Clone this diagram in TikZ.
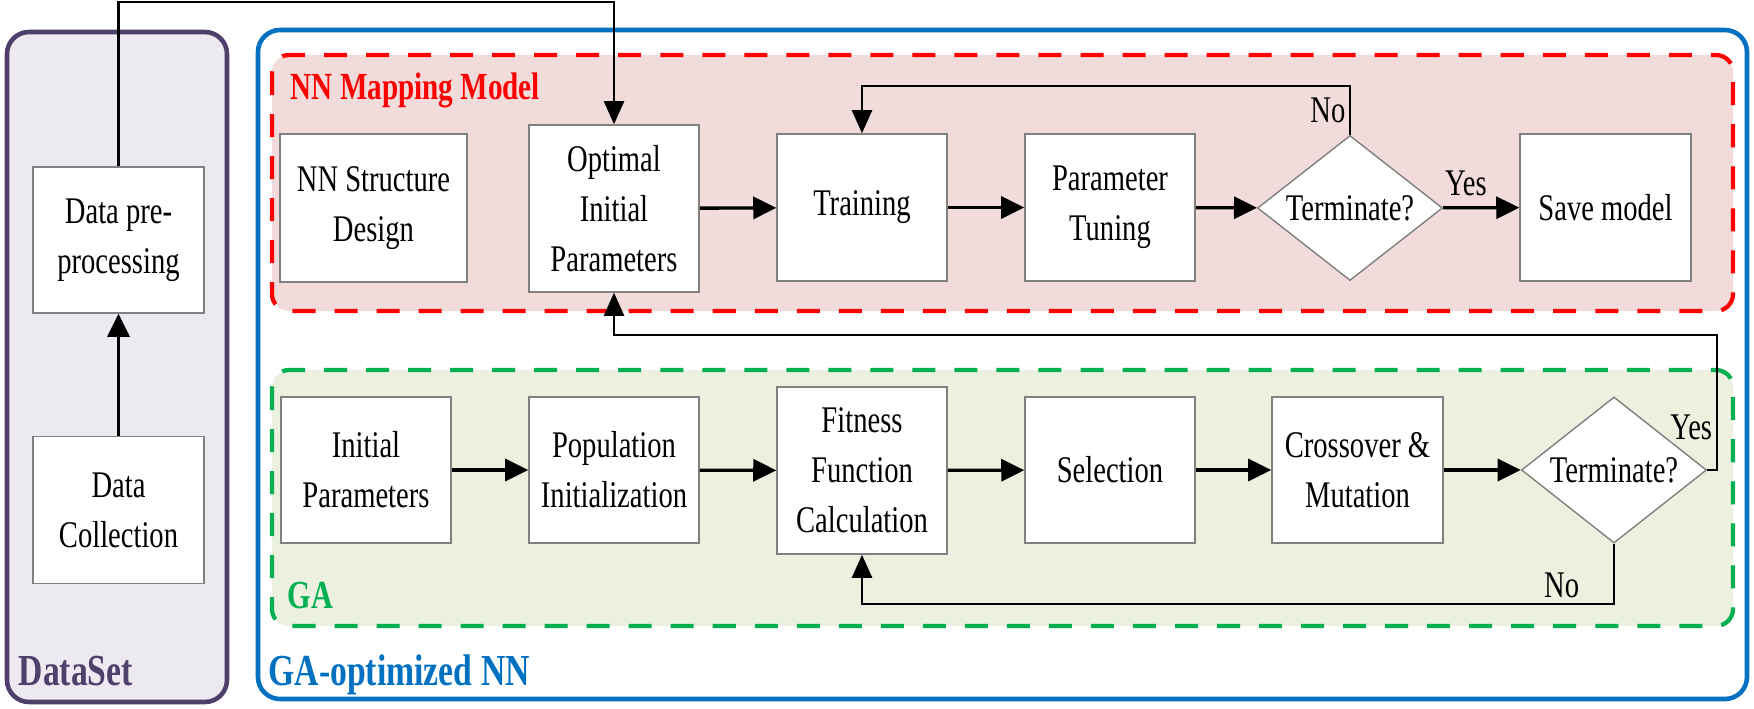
\documentclass[tikz,border=0pt]{standalone}
\usepackage{fontspec}
\setmainfont{Liberation Serif}[FakeStretch=0.76]
\usepackage{tikz}
\usetikzlibrary{shapes.geometric,arrows.meta,calc,positioning}

\definecolor{dsline}{HTML}{4F3F6B}
\definecolor{dsfill}{HTML}{ECE9F0}
\definecolor{nnblue}{HTML}{0070C0}
\definecolor{mapred}{HTML}{FF0000}
\definecolor{mapfill}{HTML}{F2DCDB}
\definecolor{gagreen}{HTML}{00B050}
\definecolor{gafill}{HTML}{EBF1DE}

\begin{document}
\begin{tikzpicture}[x=0.01cm,y=-0.01cm]%%GA-NN

        \tikzstyle{block}  = [draw=gray, fill=white, line width=0.4pt, align=center, inner sep=1pt,
                              minimum width=1.7cm, minimum height=1.47cm, font=\fontsize{10.7pt}{14.2pt}\selectfont]
        \tikzstyle{decide} = [diamond, draw=gray, fill=white, line width=0.4pt, inner sep=0pt, aspect=1.27,
                              minimum width=1.85cm, minimum height=1.45cm, font=\fontsize{10.7pt}{14.2pt}\selectfont]
        \tikzstyle{flow}   = [-{Triangle[length=2.3mm,width=2.2mm]}, line width=0.95pt]
        \tikzstyle{loop}   = [-{Triangle[length=2.3mm,width=2.0mm]}, line width=0.65pt]
        \tikzstyle{tag}    = [font=\fontsize{10.7pt}{14.2pt}\selectfont, inner sep=0pt]
        \tikzstyle{groupbox} = [rounded corners=0.17cm, dash pattern=on 0.23cm off 0.19cm, line width=1.2pt]

        \useasboundingbox (0,0) rectangle (1754,709);

        % outer frames
        \draw[dsline, fill=dsfill, line width=1.3pt, rounded corners=0.22cm] (7,32) rectangle (227,702);
        \draw[nnblue, line width=1.3pt, rounded corners=0.22cm] (258,30) rectangle (1747,699);
        \draw[groupbox, mapred, fill=mapfill] (272,55) rectangle (1733,311);
        \draw[groupbox, gagreen, fill=gafill] (272,370) rectangle (1733,626);

        \node[anchor=base west, text=dsline, font=\bfseries\fontsize{12.6pt}{14pt}\selectfont, inner sep=0pt] (lds) at (18,685) {DataSet};
        \node[anchor=base west, text=nnblue, font=\bfseries\fontsize{12.6pt}{14pt}\selectfont, inner sep=0pt] (lnn) at (268,685) {GA-optimized NN};
        \node[anchor=base west, text=mapred, font=\bfseries\fontsize{10.9pt}{13pt}\selectfont, inner sep=0pt] (lmap) at (290,99) {NN Mapping Model};
        \node[anchor=base west, text=gagreen, font=\bfseries\fontsize{11.3pt}{13pt}\selectfont, inner sep=0pt] (lga) at (287,608) {GA};

        % data set
        \node[block, minimum width=1.71cm, minimum height=1.46cm] (prep) at (118.5,240) {Data pre-\\processing};
        \node[block, minimum width=1.71cm] (coll) at (118.5,510) {Data\\Collection};

        % NN mapping model
        \node[block, minimum width=1.87cm, minimum height=1.48cm] (nnd) at (373.5,208) {NN Structure\\Design};
        \node[block, minimum height=1.67cm] (opt) at (614,208.5) {Optimal\\Initial\\Parameters};
        \node[block] (train) at (862,207.5) {Training};
        \node[block] (tune) at (1110,207.5) {Parameter\\Tuning};
        \node[decide] (stop1) at (1350,208) {Terminate?};
        \node[block, minimum width=1.71cm] (save) at (1605.5,207.5) {Save model};

        % GA
        \node[block, minimum height=1.46cm] (init) at (366,470) {Initial\\Parameters};
        \node[block, minimum height=1.46cm] (pop) at (614,470) {Population\\Initialization};
        \node[block, minimum height=1.67cm] (fit) at (862,470.5) {Fitness\\Function\\Calculation};
        \node[block, minimum height=1.46cm] (sel) at (1110,470) {Selection};
        \node[block, minimum width=1.71cm, minimum height=1.46cm] (cross) at (1357.5,470) {Crossover \&\\Mutation};
        \node[decide, minimum height=1.46cm] (stop2) at (1614,470) {Terminate?};

        \draw[flow] (coll) -- (prep);
        \draw[loop] (prep.north) -- ++(0,-164) -| (opt.north);

        \foreach \a/\b in {opt/train, train/tune, tune/stop1, init/pop, pop/fit, fit/sel, sel/cross, cross/stop2}
        {
                \draw[flow] (\a) -- (\b);
        }
        \draw[flow] (stop1) -- (save) node[tag, pos=0.3, above=3pt] {Yes};
        \draw[loop] (stop1.north) -- ++(0,-49) node[tag, pos=0.5, left=1pt] {No} -| (train.north);
        \draw[loop] (stop2.east) -- ++(10,0) node[tag, pos=0, above left=8.2pt and -1.7pt] {Yes} -- ++(0,-135) -| (opt.south);
        \draw[loop] (stop2.south) -- ++(0,60) node[tag, pos=1, above left=1.4pt and 9.6pt] {No} -| (fit.south);

\end{tikzpicture}
\end{document}
